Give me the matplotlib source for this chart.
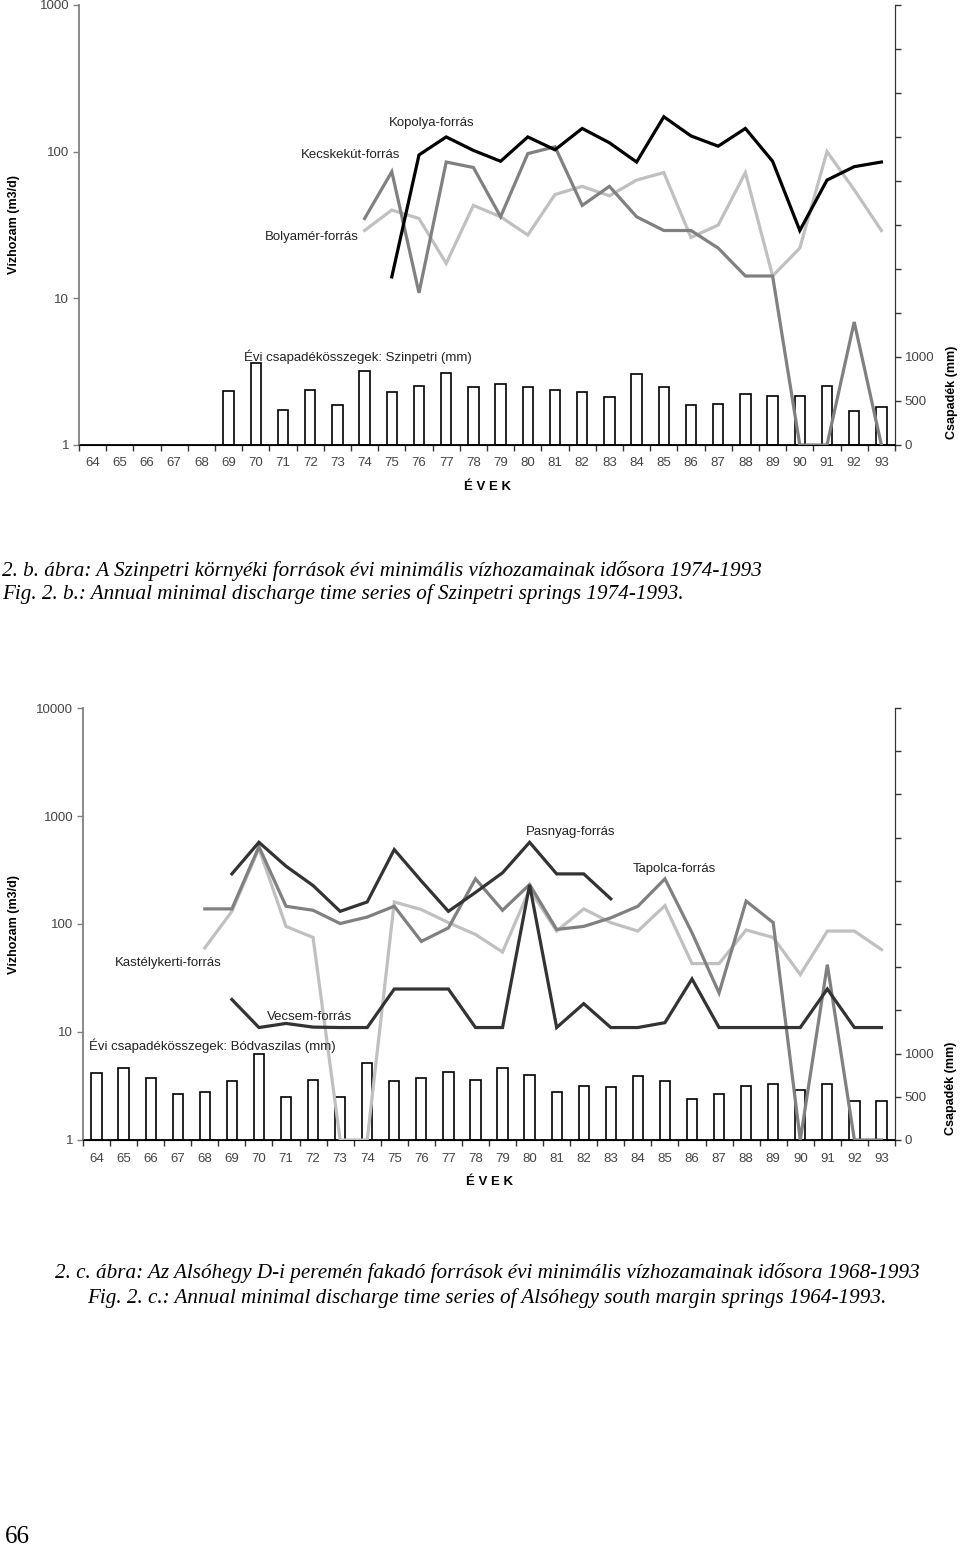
import numpy as np
import matplotlib
matplotlib.use("Agg")
import matplotlib.pyplot as plt
from matplotlib.ticker import FixedLocator, NullFormatter, FixedFormatter

nan = np.nan

# years 1964-1993, shown as two digits
years = list(range(64, 94))
year_labels = [str(y) for y in years]

# ---- 2.b: Szinpetri springs (m3/d) ----
kopolya = [nan] * 11 + [14, 95, 126, 102, 86, 126, 103, 144, 115, 85, 173, 128, 109, 144, 86, 29, 64, 79, 85]
kecskekut = [nan] * 10 + [35, 73, 10.9, 85, 78, 36, 97, 108, 43, 58, 36, 29, 29, 22, 14.2, 14.2, 1, 1, 6.9, 1]
bolyamer = [nan] * 10 + [29, 40, 35, 17.3, 43, 36, 27, 51, 58, 50, 64, 72, 26, 31.6, 72, 14.2, 22, 100, 55, 29]
# annual precipitation Szinpetri (mm)
csap_szinpetri = [nan] * 5 + [610, 935, 394, 625, 451, 841, 599, 670, 815, 659, 693, 659, 625, 599, 549,
                              807, 659, 455, 466, 580, 557, 557, 670, 383, 432]

# ---- 2.c: Alsóhegy south margin springs (m3/d) ----
pasnyag = [nan] * 5 + [291, 571, 343, 227, 131, 160, 489, 250, 131, 196, 298, 571, 291, 291, 171] + [nan] * 10
tapolca = [nan] * 4 + [138, 138, 520, 146, 134, 101, 116, 146, 69, 92, 262, 134, 232, 89, 95, 114, 146, 262,
                       83, 23, 163, 103, 1, 42, 1, 1]
kastelykerti = [nan] * 4 + [60, 131, 500, 95, 75, 1, 1, 160, 136, 103, 80, 55, 209, 86, 138, 103, 86, 148,
                            43, 43, 88, 75, 34, 86, 86, 58]
vecsem = [nan] * 5 + [20, 11, 12, 11.1, 11, 11, 25, 25, 25, 11, 11, 230, 11, 18.3, 11, 11, 12.2, 31,
                      11, 11, 11, 11, 25, 11, 11]
# annual precipitation Bódvaszilas (mm)
csap_bodvaszilas = [772, 836, 715, 535, 550, 687, 993, 500, 699, 493, 890, 687, 718, 790, 699, 836, 752,
                    561, 630, 611, 741, 687, 478, 535, 630, 653, 577, 653, 455, 455]

BLACK = "#000000"
DARK = "#333333"
MID = "#808080"
LIGHT = "#c0c0c0"
SANS = "Liberation Sans"
SERIF = "Liberation Serif"


def panel(rect, decades, bars, series, labels, bar_label):
    """draw one discharge / precipitation panel"""
    ax2 = fig.add_axes(rect)
    ax = ax2.twinx()
    # discharge axis on the left, precipitation on the right
    ax.yaxis.set_label_position("left")
    ax.yaxis.tick_left()
    ax2.yaxis.set_label_position("right")
    ax2.yaxis.tick_right()

    # precipitation bars
    ax2.bar(years, bars, width=0.38, color="white", edgecolor=BLACK, linewidth=1.2, zorder=2)
    ax2.set_ylim(0, 5000)
    ax2.yaxis.set_major_locator(FixedLocator(np.arange(0, 5001, 500)))
    ax2.yaxis.set_major_formatter(FixedFormatter(["0", "500", "1000"] + [""] * 8))
    ax2.tick_params(axis="y", direction="out", length=4, width=1, color=DARK, labelsize=9.5,
                    labelcolor="#444444", pad=3)

    # discharge lines
    for vals, color in series:
        ax.plot(years, vals, color=color, lw=2.3, solid_joinstyle="miter", zorder=3)
    ax.set_yscale("log")
    ax.set_ylim(1, 10 ** decades)
    ax.yaxis.set_major_locator(FixedLocator([10 ** i for i in range(decades + 1)]))
    ax.yaxis.set_major_formatter(FixedFormatter([str(10 ** i) for i in range(decades + 1)]))
    ax.yaxis.set_minor_locator(FixedLocator([]))
    ax.yaxis.set_minor_formatter(NullFormatter())
    ax.tick_params(axis="y", direction="out", length=4, width=1, color=MID, labelsize=9.5,
                   labelcolor="#444444", pad=3)

    # x axis: labels at years, ticks between years
    ax2.set_xlim(63.5, 93.5)
    ax2.set_xticks(years)
    ax2.set_xticklabels(year_labels, fontfamily=SANS)
    ax2.set_xticks(np.arange(63.5, 94, 1), minor=True)
    ax2.tick_params(axis="x", which="major", length=0, labelsize=9.5, labelcolor="#444444", pad=9)
    ax2.tick_params(axis="x", which="minor", direction="out", length=4, width=1, color=DARK)

    for a in (ax, ax2):
        a.spines["top"].set_visible(False)
        for lab in a.get_yticklabels():
            lab.set_fontfamily(SANS)
    ax.spines["left"].set_color(MID)
    ax.spines["left"].set_linewidth(1.3)
    ax2.spines["left"].set_visible(False)
    ax.spines["right"].set_color(DARK)
    ax2.spines["right"].set_color(DARK)
    ax.spines["bottom"].set_color(BLACK)
    ax2.spines["bottom"].set_color(BLACK)
    ax2.spines["bottom"].set_linewidth(1.3)

    # annotations
    for txt, x, y in labels:
        ax.text(x, y, txt, fontsize=9.5, family=SANS, color="#222222", va="center", ha="left")
    ax.text(bar_label[1], bar_label[2], bar_label[0], fontsize=9.5, family=SANS, color="#222222",
            va="center", ha="left")

    ax.set_ylabel("Vízhozam (m3/d)", fontsize=9, fontweight="bold", family=SANS, labelpad=10)
    ax2.set_ylabel("Csapadék (mm)", fontsize=9, fontweight="bold", family=SANS, labelpad=6)
    ax2.set_xlabel("É V E K", fontsize=9.5, fontweight="bold", family=SANS, labelpad=8)
    return ax, ax2


fig = plt.figure(figsize=(9.6, 15.49), dpi=100)

# top panel (2.b)
axb, axb2 = panel([79 / 960, 1 - 445 / 1549, 816 / 960, 440 / 1549], 3, csap_szinpetri,
                  [(bolyamer, LIGHT), (kecskekut, MID), (kopolya, BLACK)],
                  [("Kopolya-forrás", 74.9, 157), ("Kecskekút-forrás", 71.66, 95),
                   ("Bolyamér-forrás", 70.33, 26.2)],
                  ("Évi csapadékösszegek: Szinpetri (mm)", 69.56, 3.98))
axb.yaxis.set_label_coords(-0.072, 0.5)
axb2.yaxis.set_label_coords(1.062, 0.12)

# bottom panel (2.c)
axc, axc2 = panel([83 / 960, 1 - 1140 / 1549, 812 / 960, 432 / 1549], 4, csap_bodvaszilas,
                  [(kastelykerti, LIGHT), (tapolca, MID), (vecsem, DARK), (pasnyag, DARK)],
                  [("Pasnyag-forrás", 79.88, 707), ("Tapolca-forrás", 83.81, 326),
                   ("Kastélykerti-forrás", 64.68, 43.8), ("Vecsem-forrás", 70.28, 13.9)],
                  ("Évi csapadékösszegek: Bódvaszilas (mm)", 63.72, 7.5))
axc.yaxis.set_label_coords(-0.078, 0.5)
axc2.yaxis.set_label_coords(1.062, 0.12)

# captions
cap = dict(family=SERIF, style="italic", fontsize=15.2, color="black")
fig.text(2 / 960, 1 - 571 / 1549, "2. b. ábra: A Szinpetri környéki források évi minimális vízhozamainak idősora 1974-1993",
         va="center", ha="left", **cap)
fig.text(2 / 960, 1 - 594 / 1549, "Fig. 2. b.: Annual minimal discharge time series of Szinpetri springs 1974-1993.",
         va="center", ha="left", **cap)
fig.text(487 / 960, 1 - 1273 / 1549, "2. c. ábra: Az Alsóhegy D-i peremén fakadó források évi minimális vízhozamainak idősora 1968-1993",
         va="center", ha="center", **cap)
fig.text(487 / 960, 1 - 1298 / 1549, "Fig. 2. c.: Annual minimal discharge time series of Alsóhegy south margin springs 1964-1993.",
         va="center", ha="center", **cap)

# page number
fig.text(5 / 960, 1 - 1537 / 1549, "66", family=SERIF, fontsize=18, va="center", ha="left")

plt.savefig("out.png", dpi=100)
